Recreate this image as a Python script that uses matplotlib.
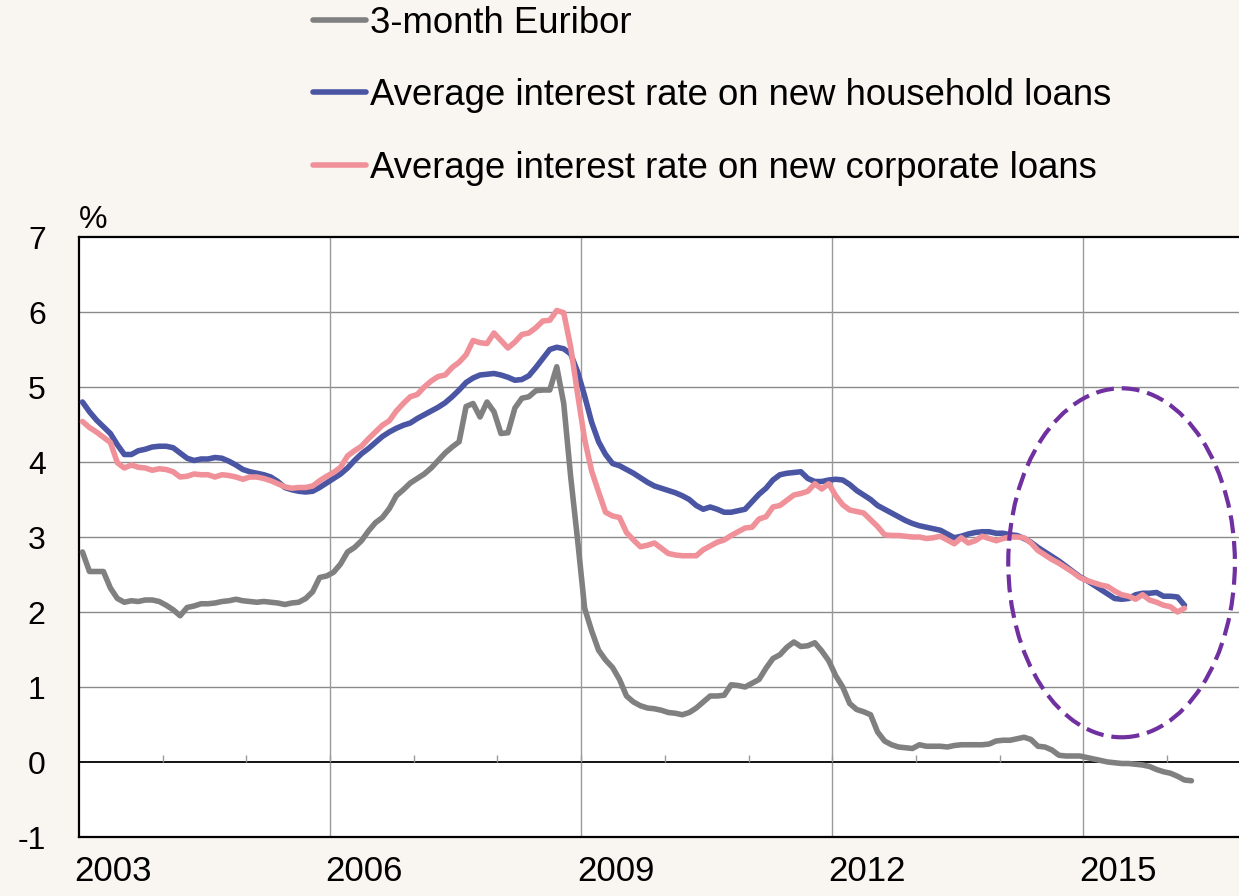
import numpy as np
import matplotlib.pyplot as plt
from matplotlib.patches import Ellipse

plt.rcParams['font.family'] = ['Liberation Sans', 'DejaVu Sans']

# Monthly data, January 2003 onwards (%)
euribor = [
    2.80, 2.54, 2.54, 2.54, 2.32, 2.18, 2.13, 2.15, 2.14, 2.16, 2.16, 2.14,
    2.09, 2.03, 1.95, 2.06, 2.08, 2.11, 2.11, 2.12, 2.14, 2.15, 2.17, 2.15,
    2.14, 2.13, 2.14, 2.13, 2.12, 2.10, 2.12, 2.13, 2.18, 2.27, 2.46, 2.48,
    2.53, 2.64, 2.80, 2.86, 2.95, 3.08, 3.19, 3.26, 3.38, 3.55, 3.63, 3.72,
    3.78, 3.84, 3.92, 4.02, 4.12, 4.20, 4.27, 4.74, 4.78, 4.60, 4.80, 4.67,
    4.38, 4.39, 4.72, 4.85, 4.87, 4.95, 4.96, 4.96, 5.27, 4.78, 3.80, 2.95,
    2.05, 1.75, 1.49, 1.36, 1.26, 1.10, 0.88, 0.80, 0.75, 0.72, 0.71, 0.69,
    0.66, 0.65, 0.63, 0.66, 0.72, 0.80, 0.88, 0.88, 0.89, 1.03, 1.02, 1.00,
    1.05, 1.10, 1.25, 1.38, 1.43, 1.53, 1.60, 1.54, 1.55, 1.59, 1.48, 1.35,
    1.15, 1.00, 0.78, 0.70, 0.67, 0.63, 0.40, 0.28, 0.23, 0.20, 0.19, 0.18,
    0.23, 0.21, 0.21, 0.21, 0.20, 0.22, 0.23, 0.23, 0.23, 0.23, 0.24, 0.28,
    0.29, 0.29, 0.31, 0.33, 0.30, 0.21, 0.20, 0.16, 0.09, 0.08, 0.08, 0.08,
    0.06, 0.04, 0.02, 0.00, -0.01, -0.02, -0.02, -0.03, -0.04, -0.06, -0.10, -0.13,
    -0.15, -0.19, -0.24, -0.25,
]

household = [
    4.80, 4.67, 4.56, 4.47, 4.38, 4.23, 4.10, 4.10, 4.15, 4.17, 4.20, 4.21,
    4.21, 4.19, 4.12, 4.05, 4.02, 4.04, 4.04, 4.06, 4.05, 4.01, 3.96, 3.90,
    3.87, 3.85, 3.83, 3.80, 3.74, 3.66, 3.63, 3.61, 3.60, 3.61, 3.66, 3.72,
    3.78, 3.84, 3.92, 4.02, 4.11, 4.18, 4.26, 4.34, 4.40, 4.45, 4.49, 4.52,
    4.58, 4.63, 4.68, 4.73, 4.79, 4.87, 4.96, 5.06, 5.12, 5.16, 5.17, 5.18,
    5.16, 5.13, 5.09, 5.10, 5.15, 5.26, 5.38, 5.50, 5.53, 5.51, 5.44, 5.20,
    4.88, 4.53, 4.27, 4.10, 3.98, 3.95, 3.90, 3.85, 3.79, 3.73, 3.68, 3.65,
    3.62, 3.59, 3.55, 3.50, 3.42, 3.37, 3.40, 3.37, 3.33, 3.33, 3.35, 3.37,
    3.47, 3.57, 3.65, 3.76, 3.83, 3.85, 3.86, 3.87, 3.78, 3.74, 3.74, 3.76,
    3.77, 3.76, 3.70, 3.62, 3.56, 3.50, 3.42, 3.37, 3.32, 3.27, 3.22, 3.18,
    3.15, 3.13, 3.11, 3.09, 3.04, 2.99, 3.01, 3.04, 3.06, 3.07, 3.07, 3.05,
    3.05, 3.03, 3.02, 2.98, 2.93, 2.86, 2.80, 2.74, 2.68, 2.61, 2.54, 2.47,
    2.42, 2.36, 2.30, 2.24, 2.18, 2.17, 2.18, 2.23, 2.25, 2.25, 2.26, 2.21,
    2.21, 2.20, 2.09,
]

corporate = [
    4.54, 4.46, 4.40, 4.33, 4.26, 3.99, 3.92, 3.96, 3.93, 3.92, 3.89, 3.91,
    3.90, 3.87, 3.80, 3.81, 3.84, 3.83, 3.83, 3.80, 3.83, 3.82, 3.80, 3.77,
    3.80, 3.80, 3.78, 3.75, 3.71, 3.67, 3.65, 3.66, 3.66, 3.68, 3.75, 3.81,
    3.86, 3.93, 4.08, 4.15, 4.21, 4.31, 4.40, 4.49, 4.55, 4.68, 4.78, 4.87,
    4.90, 5.00, 5.08, 5.14, 5.16, 5.26, 5.33, 5.43, 5.62, 5.59, 5.58, 5.72,
    5.62, 5.52, 5.60, 5.70, 5.72, 5.79, 5.88, 5.89, 6.02, 5.99, 5.53, 4.90,
    4.30, 3.88, 3.60, 3.33, 3.28, 3.26, 3.06, 2.96, 2.87, 2.89, 2.92, 2.85,
    2.78, 2.76, 2.75, 2.75, 2.75, 2.83, 2.88, 2.93, 2.96, 3.02, 3.07, 3.12,
    3.13, 3.24, 3.27, 3.40, 3.42, 3.49, 3.56, 3.58, 3.61, 3.71, 3.64, 3.71,
    3.55, 3.43, 3.36, 3.34, 3.32, 3.23, 3.14, 3.03, 3.02, 3.02, 3.01, 3.00,
    3.00, 2.98, 2.99, 3.01, 2.96, 2.91, 2.99, 2.92, 2.95, 3.01, 2.98, 2.95,
    2.98, 3.00, 3.00, 2.99, 2.92, 2.82, 2.76, 2.70, 2.65, 2.59, 2.53, 2.46,
    2.42, 2.39, 2.36, 2.34, 2.28, 2.23, 2.21, 2.17, 2.23, 2.16, 2.13, 2.09,
    2.07, 2.00, 2.05,
]

labels = ['3-month Euribor',
          'Average interest rate on new household loans',
          'Average interest rate on new corporate loans']
year_labels = [2003, 2006, 2009, 2012, 2015]
all_years = list(range(2004, 2017))


def month_pos(series):
    # mid-month position in decimal years
    return 2003 + (np.arange(len(series)) + 0.5) / 12


bg = '#f9f5f0'
fig = plt.figure(figsize=(12.39, 8.96), dpi=100, facecolor=bg)
ax = fig.add_axes([79 / 1239, 59 / 896, 1 - 79 / 1239, 600 / 896])
ax.set_facecolor('white')

ax.set_xlim(2003, 2016.86)
ax.set_ylim(-1, 7)

# grid
for v in range(1, 7):
    ax.axhline(v, color='#8a8a8a', lw=1.0, zorder=1)
for y in year_labels[1:]:
    ax.axvline(y, color='#9a9a9a', lw=1.0, zorder=1)
ax.axhline(0, color='black', lw=1.3, zorder=2)
ax.vlines(all_years, 0, 0.09, color='#999999', lw=1.0, zorder=2)

lw = 4.0
ax.plot(month_pos(euribor), euribor, color='#808080', lw=lw,
        solid_joinstyle='round', solid_capstyle='round', label=labels[0], zorder=3)
ax.plot(month_pos(household), household, color='#4a55a3', lw=lw,
        solid_joinstyle='round', solid_capstyle='round', label=labels[1], zorder=3)
ax.plot(month_pos(corporate), corporate, color='#f0919a', lw=lw,
        solid_joinstyle='round', solid_capstyle='round', label=labels[2], zorder=4)

ax.add_patch(Ellipse((2015.457, 2.656), 2.708, 4.653, fill=False,
                     edgecolor='#7030a0', lw=3.0, linestyle=(0, (4.3, 1.9)), zorder=5))

# axes styling
for side in ['left', 'top', 'bottom']:
    ax.spines[side].set_color('black')
    ax.spines[side].set_linewidth(1.6)
ax.spines['right'].set_visible(False)

ax.set_yticks(range(-1, 8))
ax.set_yticklabels([str(v) for v in range(-1, 8)], fontsize=23)
ax.tick_params(axis='y', length=0, pad=24)
ax.set_xticks([y + 0.41 for y in year_labels])
ax.set_xticklabels([str(y) for y in year_labels], fontsize=25)
ax.tick_params(axis='x', length=0, pad=13)

ax.text(0, 1.004, '%', transform=ax.transAxes, ha='left', va='bottom', fontsize=23)

fig.legend(loc='upper left', bbox_to_anchor=(313 / 1239, 1 - 6 / 896),
           frameon=False, fontsize=26.3, handlelength=1.45, handletextpad=0.12,
           labelspacing=1.02, borderpad=0, borderaxespad=0)

fig.savefig('out.png', dpi=100, facecolor=bg)
